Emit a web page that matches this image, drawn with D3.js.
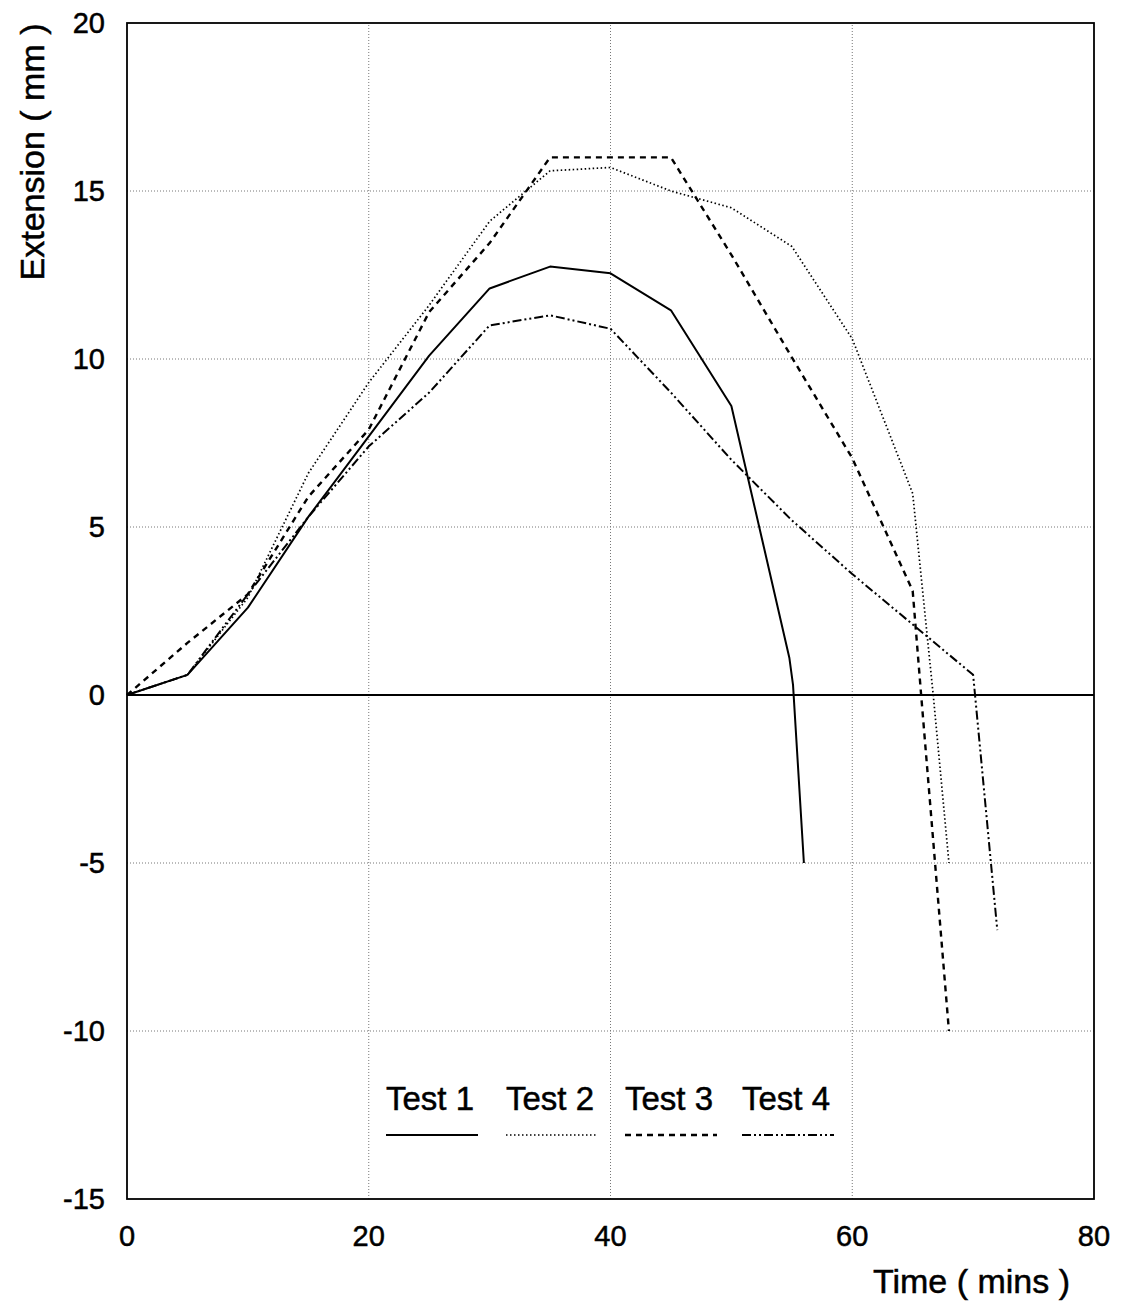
<!DOCTYPE html>
<html>
<head>
<meta charset="utf-8">
<script src="https://cdn.jsdelivr.net/npm/d3@7"></script>
<style>
  body { margin: 0; background: #fff; }
  text { font-family: "Liberation Sans", Arial, sans-serif; fill: #000; stroke: #000; stroke-width: 0.5px; }
</style>
</head>
<body>
<div id="chart"></div>
<script>
// values: [time (mins), extension (mm)]
var test1 = [[0,0],[5,0.6],[10,2.6],[15,5.3],[20,7.7],[25,10.1],[30,12.1],[35,12.75],[40,12.55],[45,11.45],[50,8.6],[54.8,1.1],[55.1,0.3],[56,-5]];
var test2 = [[0,0],[5,0.6],[10,2.9],[15,6.6],[20,9.3],[25,11.6],[30,14.1],[35,15.6],[40,15.7],[45,15.0],[50,14.5],[55,13.35],[60,10.6],[65,6.0],[66.7,0],[68,-5]];
var test3 = [[0,0],[5,1.55],[10,3.0],[15,5.9],[20,7.9],[25,11.4],[30,13.45],[35,16],[40,16],[45,16],[50,13.1],[55,10.05],[60,7.05],[65,3.1],[65.7,0],[68,-10]];
var test4 = [[0,0],[5,0.6],[10,3.0],[15,5.3],[20,7.4],[25,9.0],[30,11.0],[35,11.3],[40,10.9],[45,9.0],[50,7.0],[55,5.2],[60,3.6],[65,2.1],[70,0.6],[72,-7]];
var seriesNames = ["Test 1", "Test 2", "Test 3", "Test 4"];
var xTicks = [0, 20, 40, 60, 80];
var yTicks = [-15, -10, -5, 0, 5, 10, 15, 20];

var width = 1123, height = 1308;
var margin = {left: 127, right: 29, top: 23, bottom: 109};

var svg = d3.select("#chart").append("svg")
    .attr("width", width)
    .attr("height", height);

var x = d3.scaleLinear().domain([0, 80]).range([margin.left, width - margin.right]);
var y = d3.scaleLinear().domain([-15, 20]).range([height - margin.bottom, margin.top]);

// grid
svg.append("g").selectAll("line")
    .data(yTicks.filter(function(d) { return d != 0 && d != 20 && d != -15; }))
    .enter().append("line")
    .attr("x1", x(0)).attr("x2", x(80))
    .attr("y1", function(d) { return y(d); })
    .attr("y2", function(d) { return y(d); })
    .attr("stroke", "#777").attr("stroke-width", 1)
    .attr("stroke-dasharray", "1,2");

svg.append("g").selectAll("line")
    .data([20, 40, 60])
    .enter().append("line")
    .attr("y1", y(-15)).attr("y2", y(20))
    .attr("x1", function(d) { return x(d); })
    .attr("x2", function(d) { return x(d); })
    .attr("stroke", "#777").attr("stroke-width", 1)
    .attr("stroke-dasharray", "1,2");

// zero line
svg.append("line")
    .attr("x1", x(0)).attr("x2", x(80))
    .attr("y1", y(0)).attr("y2", y(0))
    .attr("stroke", "#000").attr("stroke-width", 1.8);

// frame
svg.append("rect")
    .attr("x", x(0)).attr("y", y(20))
    .attr("width", x(80) - x(0)).attr("height", y(-15) - y(20))
    .attr("fill", "none").attr("stroke", "#000").attr("stroke-width", 1.8);

// tick labels
svg.append("g").selectAll("text")
    .data(yTicks)
    .enter().append("text")
    .attr("x", 105)
    .attr("y", function(d) { return y(d) + 10; })
    .attr("text-anchor", "end")
    .style("font-size", "29px")
    .text(function(d) { return d; });

svg.append("g").selectAll("text")
    .data(xTicks)
    .enter().append("text")
    .attr("x", function(d) { return x(d); })
    .attr("y", 1246)
    .attr("text-anchor", "middle")
    .style("font-size", "29px")
    .text(function(d) { return d; });

// axis titles
svg.append("text")
    .attr("x", 1070).attr("y", 1293)
    .attr("text-anchor", "end")
    .style("font-size", "34px")
    .text("Time ( mins )");

svg.append("text")
    .attr("transform", "translate(44,152) rotate(-90)")
    .attr("text-anchor", "middle")
    .style("font-size", "34px")
    .text("Extension ( mm )");

// series
var styles = [
  {dash: null, w: 2},
  {dash: "1.5,2.5", w: 1.7},
  {dash: "6,5", w: 2.4},
  {dash: "9,3,2,3,2,3", w: 2}
];
var allData = [test1, test2, test3, test4];

var line = d3.line()
    .x(function(d) { return x(d[0]); })
    .y(function(d) { return y(d[1]); });

svg.append("g").selectAll("path")
    .data(allData)
    .enter().append("path")
    .attr("d", line)
    .attr("fill", "none")
    .attr("stroke", "#000")
    .attr("stroke-width", function(d, i) { return styles[i].w; })
    .attr("stroke-dasharray", function(d, i) { return styles[i].dash; })
    .attr("stroke-linejoin", "round");

// legend
var legendX = [386, 506, 625, 742];
var leg = svg.append("g").selectAll("g")
    .data(seriesNames)
    .enter().append("g")
    .attr("transform", function(d, i) { return "translate(" + legendX[i] + ",0)"; });

leg.append("text")
    .attr("x", 0).attr("y", 1110)
    .style("font-size", "33px")
    .text(function(d) { return d; });

leg.append("line")
    .attr("x1", 0).attr("x2", 92)
    .attr("y1", 1135).attr("y2", 1135)
    .attr("stroke", "#000")
    .attr("stroke-width", function(d, i) { return styles[i].w; })
    .attr("stroke-dasharray", function(d, i) { return styles[i].dash; });
</script>
</body>
</html>
